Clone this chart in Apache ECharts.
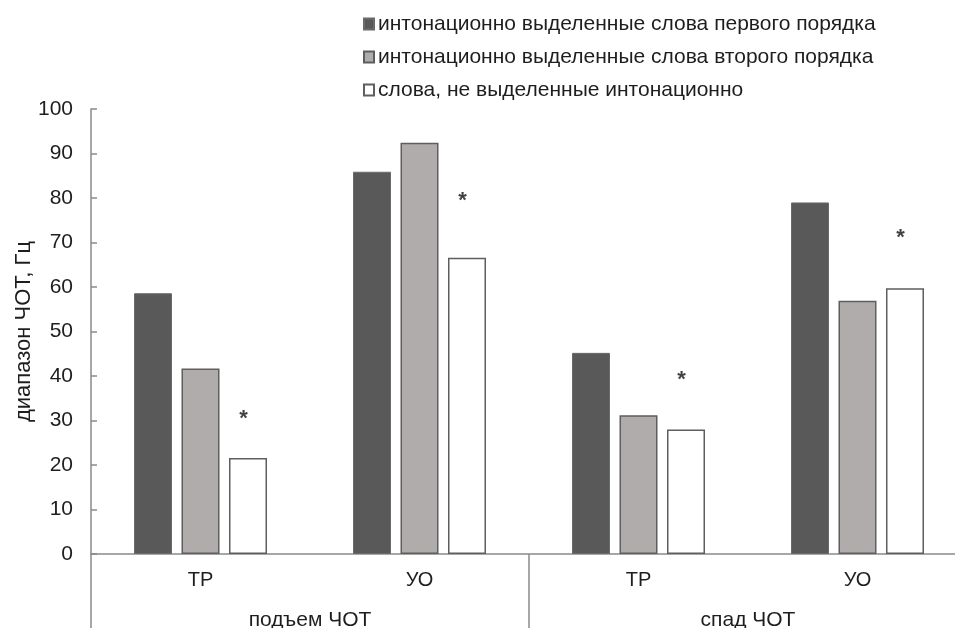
<!DOCTYPE html>
<html>
<head>
<meta charset="utf-8">
<script src="https://cdn.jsdelivr.net/npm/echarts@6/dist/echarts.min.js"></script>
<style>
  html, body { margin: 0; padding: 0; background: #fff; }
  #chart { width: 955px; height: 628px; }
</style>
</head>
<body>
<div id="chart"></div>
<script>
// F0 range by word type, split by contour direction
const categories = ['ТР', 'УО', 'ТР', 'УО'];
const groups = ['подъем ЧОТ', 'спад ЧОТ'];
const seriesNames = [
  'интонационно выделенные слова первого порядка',
  'интонационно выделенные слова второго порядка',
  'слова, не выделенные интонационно'
];
const firstOrder = [58.6, 85.9, 45.2, 79.0];
const secondOrder = [41.7, 92.4, 31.2, 56.9];
const notMarked = [21.6, 66.6, 28.0, 59.7];
// significance marks (heights in Hz above the unmarked-word bars)
const starLevels = [31.8, 80.7, 40.5, 72.4];
const yTicks = { min: 0, max: 100, interval: 10 };

const FONT = '"Liberation Sans", Arial, sans-serif';
const TEXT = '#1e1e1e';
const AXIS = '#8a8a8a';

const chart = echarts.init(document.getElementById('chart'), null, { renderer: 'canvas' });

const barBase = {
  type: 'bar',
  barWidth: 38,
  barGap: '25%',
  barCategoryGap: '39%',
  xAxisIndex: 0,
  yAxisIndex: 0
};

chart.setOption({
  animation: false,
  backgroundColor: '#ffffff',
  textStyle: { fontFamily: FONT },
  // plot area runs a little past the right edge of the canvas
  grid: { left: 91, width: 876, top: 109, bottom: 74, containLabel: false, outerBoundsMode: 'none' },
  legend: {
    orient: 'vertical',
    left: 358,
    top: 8,
    itemWidth: 10,
    itemHeight: 11,
    itemGap: 11,
    icon: 'rect',
    data: seriesNames,
    textStyle: { fontSize: 21, color: TEXT, fontFamily: FONT, lineHeight: 22, padding: [0, 0, 0, -1] }
  },
  xAxis: [
    {
      type: 'category',
      data: categories,
      position: 'bottom',
      axisLine: { show: true, lineStyle: { color: AXIS, width: 1.5 } },
      axisTick: { show: false },
      axisLabel: { color: TEXT, fontSize: 20, margin: 16, fontFamily: FONT }
    },
    {
      type: 'category',
      data: groups,
      position: 'bottom',
      axisLine: { show: false },
      axisTick: { show: true, length: 80, alignWithLabel: false, lineStyle: { color: AXIS, width: 1.5 } },
      axisLabel: { color: TEXT, fontSize: 21, margin: 56, fontFamily: FONT }
    }
  ],
  yAxis: {
    type: 'value',
    min: yTicks.min,
    max: yTicks.max,
    interval: yTicks.interval,
    name: 'диапазон ЧОТ, Гц',
    nameLocation: 'middle',
    nameGap: 56,
    nameRotate: 90,
    nameMoveOverlap: false,
    nameTextStyle: { color: TEXT, fontSize: 22, fontFamily: FONT },
    axisLine: { show: true, lineStyle: { color: AXIS, width: 1.5 } },
    axisTick: { show: true, inside: true, length: 6, lineStyle: { color: AXIS, width: 1.5 } },
    axisLabel: { color: TEXT, fontSize: 21, margin: 18, fontFamily: FONT },
    splitLine: { show: false }
  },
  series: [
    Object.assign({}, barBase, {
      name: seriesNames[0],
      data: firstOrder,
      itemStyle: { color: '#595959', borderColor: '#6a6a6a', borderWidth: 1 }
    }),
    Object.assign({}, barBase, {
      name: seriesNames[1],
      data: secondOrder,
      itemStyle: { color: '#b0acab', borderColor: '#5e5e5e', borderWidth: 1.5 }
    }),
    Object.assign({}, barBase, {
      name: seriesNames[2],
      data: notMarked,
      itemStyle: { color: '#ffffff', borderColor: '#5e5e5e', borderWidth: 1.5 }
    }),
    {
      type: 'scatter',
      name: 'sig',
      data: starLevels,
      symbolSize: 0,
      silent: true,
      label: {
        show: true,
        formatter: '*',
        position: 'inside',
        offset: [43, 6],
        color: '#111',
        fontSize: 22,
        fontWeight: 'bold',
        fontFamily: FONT
      }
    }
  ]
});
</script>
</body>
</html>
